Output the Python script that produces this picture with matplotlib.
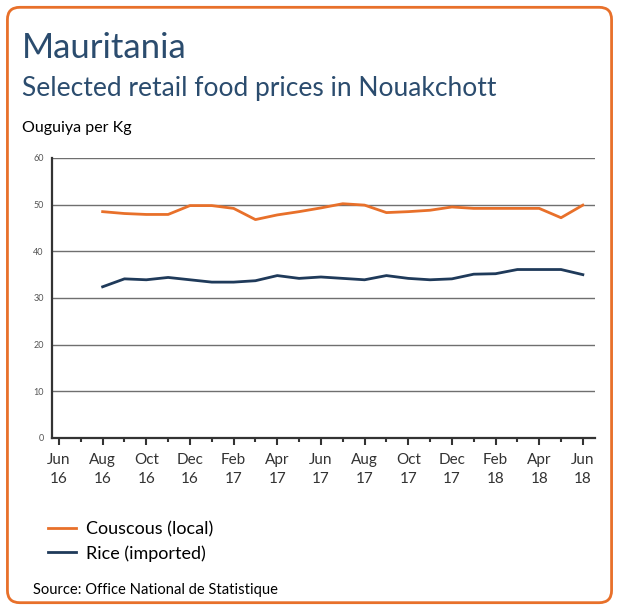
import matplotlib
matplotlib.use("Agg")
import matplotlib.pyplot as plt
from matplotlib.patches import FancyBboxPatch

# months counted from Jun 2016 (0) to Jun 2018 (24)
months = list(range(2, 25))
couscous = [48.5, 48.1, 47.9, 47.9, 49.8, 49.8, 49.2, 46.8, 47.8, 48.5, 49.3,
            50.2, 49.9, 48.3, 48.5, 48.8, 49.5, 49.2, 49.2, 49.2, 49.2, 47.2, 49.9]
rice = [32.4, 34.1, 33.9, 34.4, 33.9, 33.4, 33.4, 33.7, 34.8, 34.2, 34.5,
        34.2, 33.9, 34.8, 34.2, 33.9, 34.1, 35.1, 35.2, 36.1, 36.1, 36.1, 35.0]
tick_labels = ["Jun\n16", "Aug\n16", "Oct\n16", "Dec\n16", "Feb\n17", "Apr\n17", "Jun\n17",
               "Aug\n17", "Oct\n17", "Dec\n17", "Feb\n18", "Apr\n18", "Jun\n18"]

orange = "#E8702A"
navy = "#1F3A5A"
title_col = "#2B4C6E"

plt.rcParams['font.family'] = ['Lato', 'DejaVu Sans']

fig = plt.figure(figsize=(6.19, 6.10), dpi=100)
fig.patch.set_facecolor("white")

# rounded orange frame
frame = FancyBboxPatch((0.012, 0.012), 0.976, 0.976, boxstyle="round,pad=0,rounding_size=0.02",
                       transform=fig.transFigure, facecolor="none", edgecolor=orange,
                       linewidth=2, zorder=0)
fig.patches.append(frame)

fig.text(0.036, 0.921, "Mauritania", fontsize=25, color=title_col, va="center")
fig.text(0.036, 0.855, "Selected retail food prices in Nouakchott", fontsize=19,
         color=title_col, va="center")
fig.text(0.036, 0.79, "Ouguiya per Kg", fontsize=11.5, color="black", va="center")

ax = fig.add_axes([0.084, 0.282, 0.877, 0.459])
ax.plot(months, couscous, color=orange, lw=2, label="Couscous (local)", zorder=3)
ax.plot(months, rice, color=navy, lw=2, label="Rice (imported)", zorder=3)

ax.set_xlim(-0.32, 24.55)
ax.set_ylim(0, 60)
ax.set_yticks(range(0, 61, 10))
ax.set_xticks(range(0, 25, 2))
ax.set_xticklabels(tick_labels)
ax.set_xticks(range(1, 25, 2), minor=True)
ax.yaxis.grid(True, color="#6f6f6f", lw=1)
ax.set_axisbelow(True)
for s in ["top", "right"]:
    ax.spines[s].set_visible(False)
ax.spines["left"].set_color("#333333")
ax.spines["left"].set_linewidth(1.6)
ax.spines["bottom"].set_color("#333333")
ax.spines["bottom"].set_linewidth(1.6)
ax.tick_params(axis="y", length=0, labelsize=6.5, labelcolor="#555555", pad=6)
ax.tick_params(axis="x", which="major", length=5, width=1.5, color="#333333",
               labelsize=11, labelcolor="#333333", pad=6)
ax.tick_params(axis="x", which="minor", length=3, width=1.5, color="#333333")
for lbl in ax.get_xticklabels():
    lbl.set_linespacing(1.45)

handles, labels = ax.get_legend_handles_labels()
fig.legend(handles, labels, loc="upper left", bbox_to_anchor=(0.077, 0.146), frameon=False,
           fontsize=13, handlelength=1.55, handletextpad=0.6, labelspacing=0.45,
           borderaxespad=0, borderpad=0)

fig.text(0.053, 0.032, "Source: Office National de Statistique", fontsize=10.6, color="black",
         va="center")

fig.savefig("out.png", dpi=100)
